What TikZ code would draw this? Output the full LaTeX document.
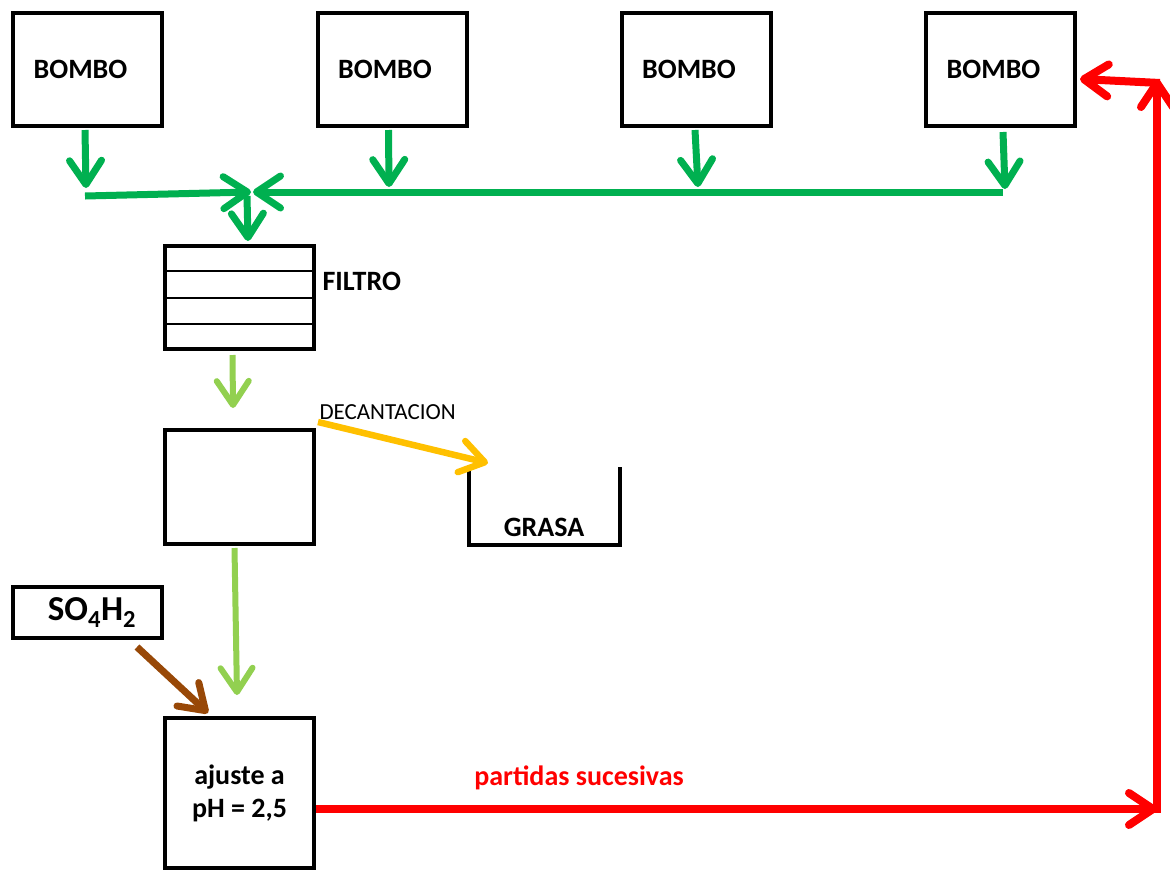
\documentclass[tikz,border=0pt]{standalone}
\usepackage{fontspec}
\setmainfont{Carlito}
\usetikzlibrary{arrows.meta,calc}
\definecolor{cgreen}{HTML}{00B050}
\definecolor{clight}{HTML}{92D050}
\definecolor{cyellow}{HTML}{FFC000}
\definecolor{cbrown}{HTML}{984807}
\definecolor{cred}{HTML}{FF0000}
\begin{document}
\begin{tikzpicture}[x=1pt,y=-1pt,
  box/.style={draw,line width=4pt,inner sep=0pt},
  big/.style={font=\fontsize{28}{33}\selectfont\bfseries},
  tip/.style={-{Straight Barb[round,length=24pt,width=32pt]}},
  garr/.style={tip,draw=cgreen,line width=7pt},
  larr/.style={tip,draw=clight,line width=6pt},
  yarr/.style={tip,draw=cyellow,line width=6.5pt},
  barr/.style={tip,draw=cbrown,line width=7pt},
  rarr/.style={tip,draw=cred,line width=8pt},
  bomb/.style={box,minimum width=149pt,minimum height=113pt,
    label={[big,xshift=-7pt]center:BOMBO}},
  col/.style={box,minimum width=149pt}
]
\useasboundingbox (0,0) rectangle (1170,871);

% BOMBO boxes
\node[bomb] (b1) at (87.5,69.5) {};
\node[bomb] (b2) at (392,69.5) {};
\node[bomb] (b3) at (696,69.5) {};
\node[bomb] (b4) at (1000.5,69.5) {};

% green collector
\coordinate (t1) at (86,188);
\coordinate (t2) at (389,187);
\coordinate (t3) at (698,187);
\coordinate (t4) at (1005,189);
\coordinate (bl) at (85,196);
\coordinate (br) at (1003,192);
\coordinate (mL) at (251,192);
\coordinate (mR) at (253,192);
\coordinate (md) at (247,196);

\draw[garr] ($(b1.south)+(-2.5,2)$) -- (t1);
\draw[garr] ($(b2.south)+(-3.5,2)$) -- (t2);
\draw[garr] ($(b3.south)+(-1,2)$) -- (t3);
\draw[garr] ($(b4.south)+(2.5,4)$) -- (t4);
\draw[garr] (bl) -- (mL);
\draw[garr] (br) -- (mR);

% FILTRO
\node[col,minimum height=103pt] (f) at (239.5,297.5) {};
\foreach \k in {0.25,0.5,0.75}
  \draw[line width=2pt] ($(f.north west)!\k!(f.south west)$) -- ($(f.north east)!\k!(f.south east)$);
\node[big,anchor=west] (ft) at (319,281) {FILTRO};
\draw[garr] (md) -- ($(f.north)+(8.5,-3)$);

% decantation box
\node[col,minimum height=114pt] (d) at (239.5,487) {};
\draw[larr] ($(f.south)+(-7,4)$) -- ($(d.north)+(-6.5,-20)$);

% GRASA container
\coordinate (g1) at (468.5,469);
\coordinate (g2) at (468.5,544.5);
\coordinate (g3) at (619.5,544.5);
\coordinate (g4) at (619.5,467);
\draw[line width=4pt] (g1) -- (g2) -- (g3) -- (g4);
\node[big] (gt) at (544,527) {GRASA};
\coordinate (ga) at (488,463);
\draw[yarr] ($(d.north east)+(2,-6)$) -- (ga);
\node[font=\fontsize{23}{27}\selectfont,anchor=west] (dt) at (316,412) {DECANTACION};

% SO4H2
\node[box,minimum width=149pt,minimum height=51pt,
  label={[font=\fontsize{35}{40}\selectfont\bfseries,xshift=4.5pt]center:SO\textsubscript{4}H\textsubscript{2}}] (s) at (87.5,612.5) {};

% ajuste box
\node[col,minimum height=150pt,big,align=center] (p) at (239.5,793) {ajuste a\\pH = 2,5};
\draw[larr] ($(d.south)+(-5,2)$) -- ($(p.north)+(-2.5,-21)$);
\draw[barr] ($(s.south east)+(-27,7)$) -- ($(p.north)+(-31.5,-3)$);

% red return
\coordinate (c1) at (1157,809);
\coordinate (c0) at (1157,813);
\coordinate (c2) at (1157,79);
\coordinate (c3) at (1160,83);
\draw[rarr] (p.east |- c1) -- (c1);
\draw[rarr] (c0) -- (c2);
\draw[rarr] (c3) -- ($(b4.east)+(3,9.5)$);
\node[big,text=cred] (rt) at (579,778) {partidas sucesivas};
\end{tikzpicture}
\end{document}
